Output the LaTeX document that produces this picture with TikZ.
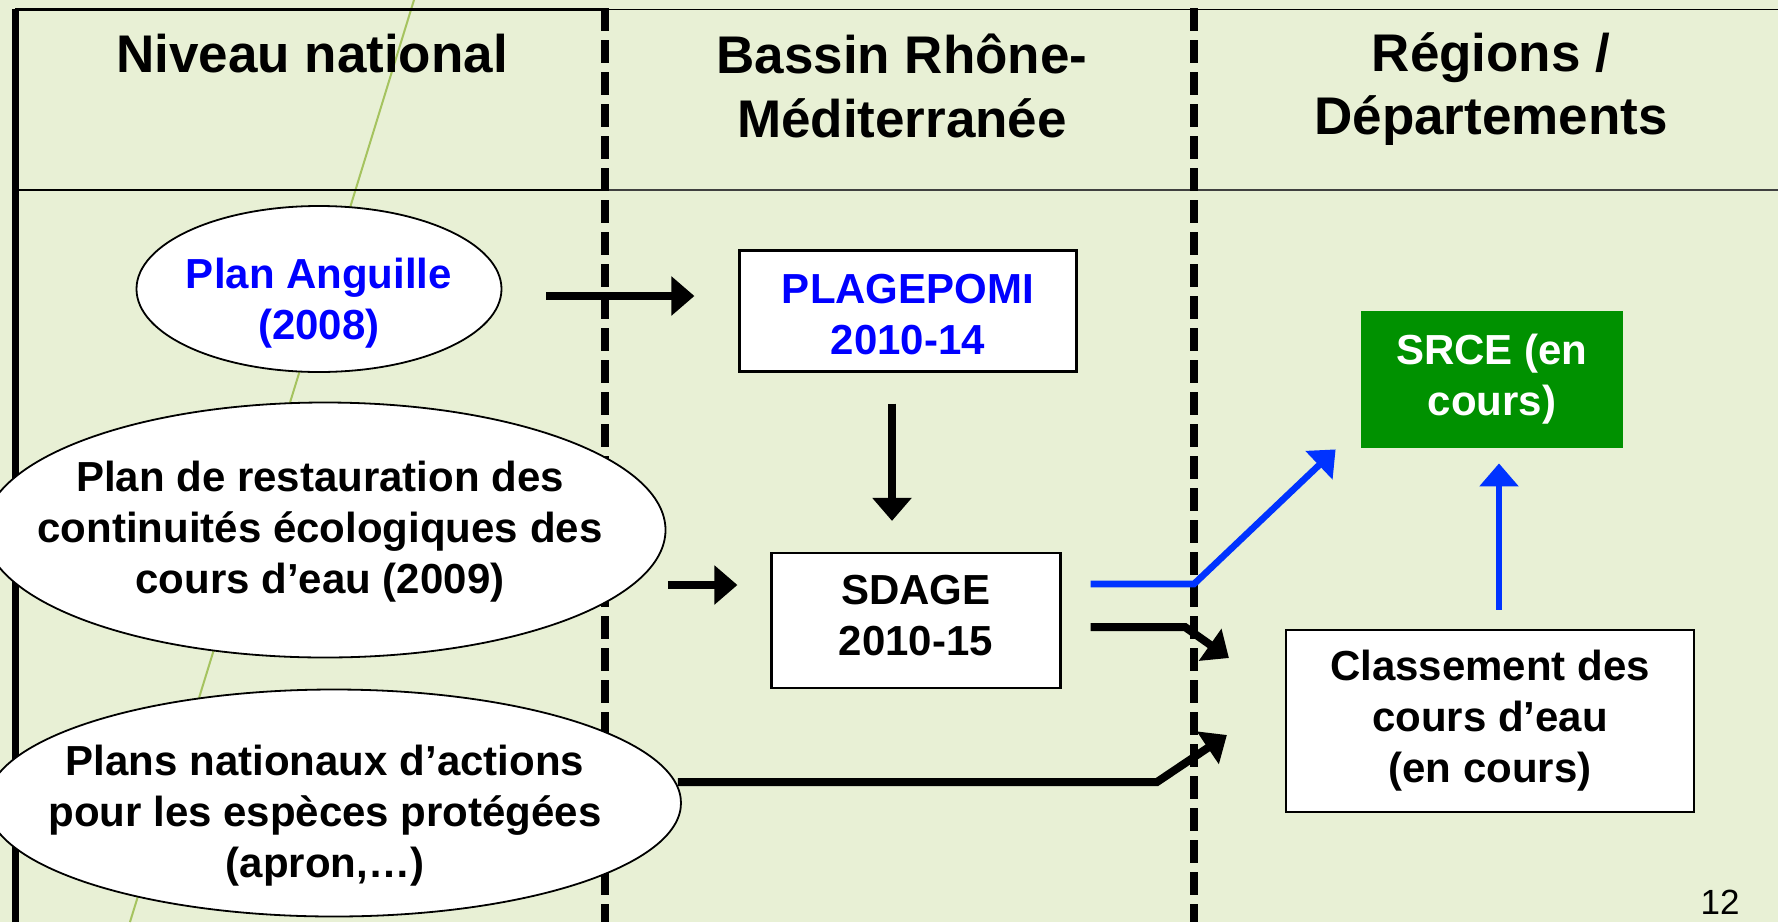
\documentclass[tikz,border=0pt]{standalone}
\usepackage{fontspec}
\setmainfont{Liberation Sans}
\usetikzlibrary{shapes.geometric,arrows.meta,calc}
\definecolor{bg}{RGB}{232,240,213}
\definecolor{olivel}{RGB}{165,195,95}
\definecolor{txtblue}{RGB}{0,0,255}
\definecolor{lineblue}{RGB}{0,51,255}
\definecolor{srcegreen}{RGB}{0,145,0}
\begin{document}
\begin{tikzpicture}[x=0.5pt,y=-0.5pt,
  bodytext/.style={font=\fontsize{21}{25.5}\selectfont\bfseries, align=center, inner sep=0pt},
  headtext/.style={font=\fontsize{26.5}{31.8}\selectfont\bfseries, align=center, inner sep=0pt},
  ellshape/.style={ellipse, draw=black, line width=0.9pt, fill=white, inner sep=0pt},
  rbox/.style={rectangle, draw=black, line width=1.1pt, fill=white, inner sep=0pt},
  sep/.style={line width=4pt, dash pattern=on 11.67pt off 4.33pt},
  arr/.style={line width=4pt, -{Triangle[length=11.5pt,width=19pt]}},
  barr/.style={line width=3.3pt, lineblue, -{Triangle[length=11.5pt,width=19pt]}}
]
\useasboundingbox (0,0) rectangle (1778,922);
\fill[bg] (0,0) rectangle (1778,922);
\draw[olivel, line width=1pt] (414,0) -- (130,922);
% frame
\draw[line width=1.25pt] (15,190) -- (605,190);
\draw[line width=1pt, black!75] (605,190) -- (1778,190);
\draw[line width=0.7pt] (605,9.5) -- (1778,9.5);
\draw[line width=1.3pt] (15,9.5) -- (605,9.5);
\draw[line width=3.8pt] (15.5,922) -- (15.5,8.5);
\draw[sep] (605,8) -- (605,922);
\draw[sep] (1194,8) -- (1194,922);
% headers
\node[headtext] (h1) at (312,54) {Niveau national};
\node[headtext] (h2) at (902,86) {Bassin Rhône-\\Méditerranée};
\node[headtext] (h3) at (1491,89) {Régions /\\Départements};
% ellipses and their texts
\node[ellshape, minimum width=182.5pt, minimum height=83pt] (pa) at (319,289) {};
\node[bodytext, text=txtblue] (pat) at (319,303) {Plan Anguille\\(2008)};
\node[ellshape, minimum width=340.5pt, minimum height=127.5pt] (pr) at (325,530) {};
\node[bodytext] (prt) at (320,532) {Plan de restauration des\\continuités écologiques des\\cours d’eau (2009)};
\node[ellshape, minimum width=347pt, minimum height=113.5pt] (pn) at (334,803) {};
\node[bodytext] (pnt) at (325,816) {Plans nationaux d’actions\\pour les espèces protégées\\(apron,…)};
% boxes and their texts
\node[rbox, minimum width=168.5pt, minimum height=60.5pt] (plag) at (908,311) {};
\node[bodytext, text=txtblue] (plagt) at (908,315) {PLAGEPOMI\\2010-14};
\node[rbox, minimum width=144.5pt, minimum height=67.5pt] (sdage) at (916,620.5) {};
\node[bodytext] (sdaget) at (916,616) {SDAGE\\2010-15};
\node[bodytext, rectangle, fill=srcegreen, text=white, minimum width=131pt, minimum height=68.5pt] (srce) at (1492,379.5) {SRCE (en\\cours)};
\node[rbox, bodytext, minimum width=204pt, minimum height=91pt] (cls) at (1490,721) {Classement des\\cours d’eau\\(en cours)};
\node[font=\fontsize{17.5}{20}\selectfont, inner sep=0pt] (pg) at (1720,902) {12};
% connectors
\draw[arr] ($(pa.east)+(44,7)$) -- ($(plag.west)+(-44,-15)$);
\draw[arr] ($(plag.south)+(-16,31)$) -- ($(sdage.north)+(-24,-31)$);
\draw[arr] ($(pr.east)+(1.5,55)$) -- ($(sdage.west)+(-33,-35.5)$);
\draw[barr] ($(sdage.east)+(29,-36.5)$) -- (1194,584) -- ($(srce.south west)+(-25,1)$);
\draw[arr] ($(sdage.east)+(29,6.5)$) -- (1185,627) -- ($(cls.west)+(-56,-63)$);
\draw[arr] ($(pn.east)+(-4,-21)$) -- (1157,782) -- ($(cls.west)+(-58,14)$);
\draw[barr] ($(cls.north)+(9,-19)$) -- ($(srce.south)+(7,15)$);
\end{tikzpicture}
\end{document}
